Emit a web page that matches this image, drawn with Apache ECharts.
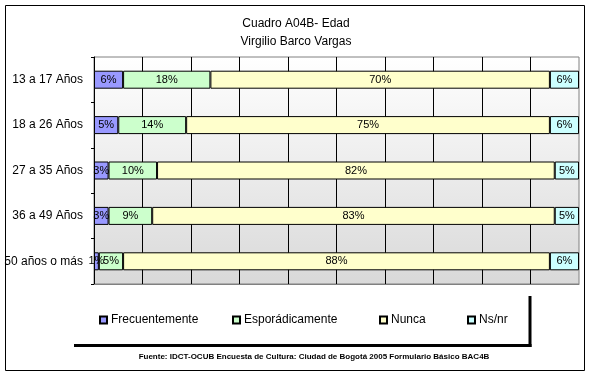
<!DOCTYPE html>
<html>
<head>
<meta charset="utf-8">
<script src="https://cdn.jsdelivr.net/npm/echarts@6/dist/echarts.min.js"></script>
<style>html,body{margin:0;padding:0;background:#fff;}#c{width:592px;height:378px;}</style>
</head>
<body>
<div id="c"></div>
<script>
const categories = ['13 a 17 Años', '18 a 26 Años', '27 a 35 Años', '36 a 49 Años', '50 años o más'];
const frecuentemente = [6, 5, 3, 3, 1];
const esporadicamente = [18, 14, 10, 9, 5];
const nunca = [70, 75, 82, 83, 88];
const nsnr = [6, 6, 5, 5, 6];
const seriesNames = ['Frecuentemente', 'Esporádicamente', 'Nunca', 'Ns/nr'];
const seriesColors = ['#9999ff', '#ccffcc', '#ffffcc', '#ccffff'];
const seriesValues = [frecuentemente, esporadicamente, nunca, nsnr];
const xTicks = [0, 10, 20, 30, 40, 50, 60, 70, 80, 90, 100];

const FONT = "'Liberation Sans', Arial, sans-serif";
const chart = echarts.init(document.getElementById('c'), null, {renderer: 'canvas'});

const legendLefts = [99, 232, 379, 467];

chart.setOption({
  animation: false,
  backgroundColor: '#fff',
  title: {
    text: 'Cuadro A04B- Edad\nVirgilio Barco Vargas',
    left: 'center',
    top: 10,
    textStyle: {fontFamily: FONT, fontSize: 12, fontWeight: 'normal', color: '#000', lineHeight: 18}
  },
  legend: seriesNames.map((n, i) => ({
    data: [n],
    left: legendLefts[i],
    top: 314,
    icon: 'rect',
    itemWidth: 7,
    itemHeight: 7,
    itemGap: 4,
    padding: 0,
    textStyle: {fontFamily: FONT, fontSize: 12, color: '#000', padding: [0, 0, 0, -1]}
  })),
  grid: {
    left: 94, top: 57, width: 485, height: 227,
    show: true,
    borderColor: '#808080',
    borderWidth: 1,
    backgroundColor: {type: 'linear', x: 0, y: 0, x2: 0, y2: 1,
      colorStops: [{offset: 0, color: '#ffffff'}, {offset: 1, color: '#d9d9d9'}]}
  },
  xAxis: {
    type: 'value',
    min: xTicks[0], max: xTicks[xTicks.length - 1], interval: 10,
    axisLabel: {show: false},
    axisTick: {show: false},
    axisLine: {show: true, lineStyle: {color: '#808080'}},
    splitLine: {show: true, showMinLine: false, showMaxLine: false, lineStyle: {color: '#000', width: 1}}
  },
  yAxis: {
    type: 'category',
    inverse: true,
    data: categories,
    axisLine: {show: true, lineStyle: {color: '#000'}},
    axisTick: {show: true, length: 3, lineStyle: {color: '#000'}},
    axisLabel: {fontFamily: FONT, fontSize: 12, color: '#000', margin: 11}
  },
  series: seriesNames.map((n, i) => ({
    name: n,
    type: 'bar',
    stack: 'total',
    barWidth: 18,
    data: seriesValues[i],
    itemStyle: {color: seriesColors[i], borderColor: '#000', borderWidth: 1},
    label: {show: true, position: 'inside', formatter: '{c}%', fontFamily: FONT, fontSize: 11, color: '#000'}
  })),
  graphic: [
    {type: 'rect', shape: {x: 5.5, y: 5.5, width: 579, height: 365}, style: {fill: 'none', stroke: '#000', lineWidth: 1}, silent: true},
    {type: 'line', shape: {x1: 74, y1: 345.5, x2: 531.5, y2: 345.5}, style: {stroke: '#000', lineWidth: 3}, silent: true},
    {type: 'line', shape: {x1: 530, y1: 296, x2: 530, y2: 347}, style: {stroke: '#000', lineWidth: 3}, silent: true},
    {type: 'text', x: 314, y: 357, style: {text: 'Fuente: IDCT-OCUB Encuesta de Cultura: Ciudad de Bogotá 2005 Formulario Básico BAC4B', fontFamily: FONT, fontSize: 8, fontWeight: 'bold', fill: '#000', align: 'center', verticalAlign: 'middle'}, silent: true}
  ]
});
</script>
</body>
</html>
